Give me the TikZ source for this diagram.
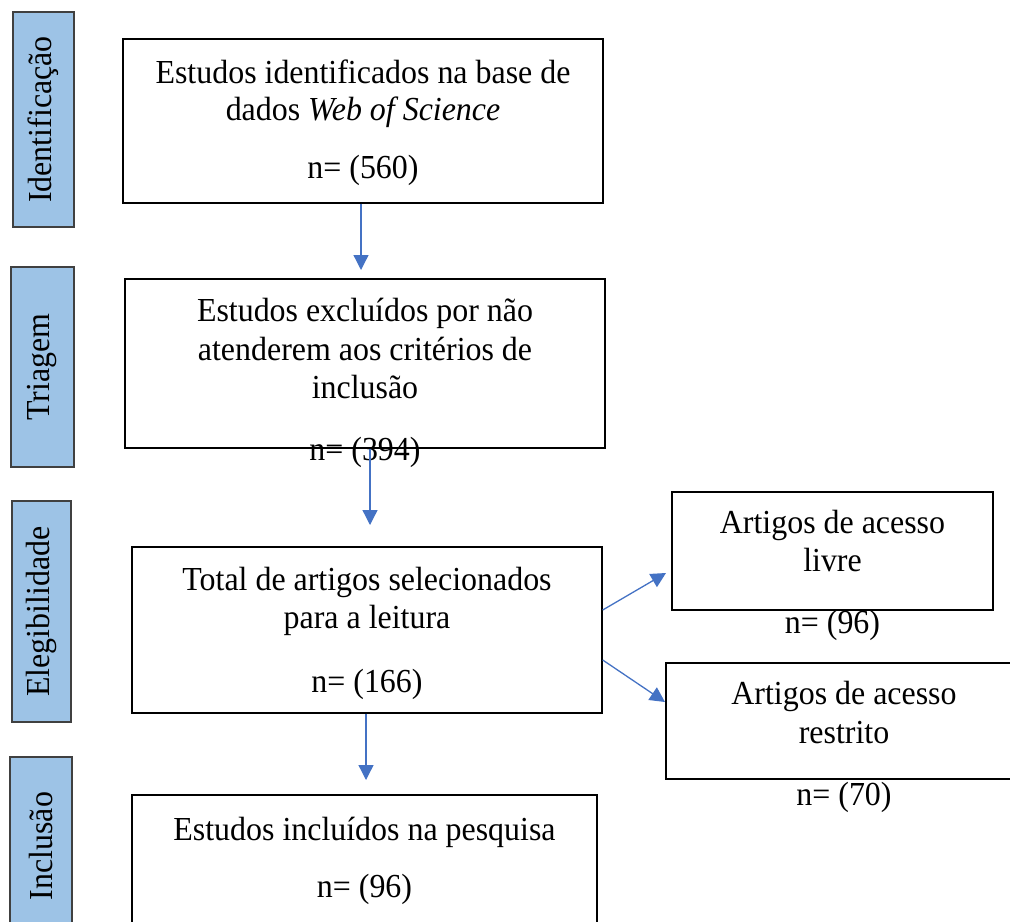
\documentclass[tikz,border=0pt]{standalone}
\usepackage{fontspec}
\setmainfont{Liberation Serif}[FakeStretch=0.95]
\usetikzlibrary{positioning}
\usetikzlibrary{arrows.meta}

\definecolor{azulfase}{HTML}{9DC3E6}
\definecolor{bordafase}{HTML}{404040}
\definecolor{azulseta}{HTML}{4472C4}

\tikzset{
  caixa/.style={draw=black, line width=0.7pt, inner sep=0pt},
  fase/.style={draw=bordafase, fill=azulfase, line width=0.8pt, inner sep=0pt},
  seta/.style={draw=azulseta, line width=0.65pt, -{Triangle[length=7.5pt,width=7.5pt]}},
  texto/.style={anchor=base, inner sep=0pt, font=\fontsize{16.8pt}{19pt}\selectfont},
  rotulo/.style={rotate=90, inner sep=0pt, font=\fontsize{16.8pt}{19pt}\selectfont},
}

\begin{document}
\begin{tikzpicture}[x=0.5pt, y=-0.5pt]
			\useasboundingbox (0,0) rectangle (1010,921);
			\clip (0,0) rectangle (1010,921);
			% fases
			\node[fase, minimum width=30.5pt, minimum height=107.5pt] (fase1) at (43.5,119.5) {};
			\node[fase, minimum width=31.5pt, minimum height=100pt] (fase2) at (42.5,367) {};
			\node[fase, minimum width=29.5pt, minimum height=110.5pt] (fase3) at (41.5,611.5) {};
			\node[fase, minimum width=31pt, minimum height=89pt] (fase4) at (41,846) {};
			\node[rotulo] (r1) at (fase1) {Identificação};
			\node[rotulo] (r2) at (fase2) {Triagem};
			\node[rotulo] (r3) at (fase3) {Elegibilidade};
			\node[rotulo] (r4) at (fase4) {Inclusão};
			% caixas
			\node[caixa, minimum width=240pt, minimum height=82pt] (caixa1) at (363,121) {};
			\node[caixa, minimum width=240pt, minimum height=84.5pt] (caixa2) at (365,363.5) {};
			\node[caixa, minimum width=235pt, minimum height=83pt] (caixa3) at (367,630) {};
			\node[caixa, minimum width=232.5pt, minimum height=70pt] (caixa4) at (364.5,865) {};
			\node[caixa, minimum width=160.5pt, minimum height=59pt] (caixa5) at (832.5,551) {};
			\node[caixa, minimum width=178pt, minimum height=58pt] (caixa6) at (844,721) {};
			% textos
			\node[texto] (t1a) at (363,83) {Estudos identificados na base de};
			\node[texto] (t1b) at (363,120) {dados \textit{Web of Science}};
			\node[texto] (n1) at (363,178) {n= (560)};
			\node[texto] (t2a) at (365,321) {Estudos excluídos por não};
			\node[texto] (t2b) at (365,360) {atenderem aos critérios de};
			\node[texto] (t2c) at (365,398) {inclusão};
			\node[texto] (n2) at (365,460) {n= (394)};
			\node[texto] (t3a) at (367,590) {Total de artigos selecionados};
			\node[texto] (t3b) at (367,628) {para a leitura};
			\node[texto] (n3) at (367,692) {n= (166)};
			\node[texto] (t4a) at (364.5,840) {Estudos incluídos na pesquisa};
			\node[texto] (n4) at (364.5,897) {n= (96)};
			\node[texto] (t5a) at (832.5,533) {Artigos de acesso};
			\node[texto] (t5b) at (832.5,571) {livre};
			\node[texto] (n5) at (832.5,633) {n= (96)};
			\node[texto] (t6a) at (844,704) {Artigos de acesso};
			\node[texto] (t6b) at (844,743) {restrito};
			\node[texto] (n6) at (844,805) {n= (70)};
			% setas
			\coordinate (ponta1) at (361,270);
			\coordinate (ponta2) at (370,525);
			\coordinate (ponta3) at (366,780);
			\coordinate (ponta4) at (666,573);
			\coordinate (ponta5) at (665,702);
			\draw[seta] (caixa1.south -| ponta1) -- (ponta1);
			\draw[seta] (caixa2.south -| ponta2) -- (ponta2);
			\draw[seta] (caixa3.south -| ponta3) -- (ponta3);
			\draw[seta] ([yshift=10pt]caixa3.east) -- (ponta4);
			\draw[seta] ([yshift=-15pt]caixa3.east) -- (ponta5);
		\end{tikzpicture}
\end{document}
